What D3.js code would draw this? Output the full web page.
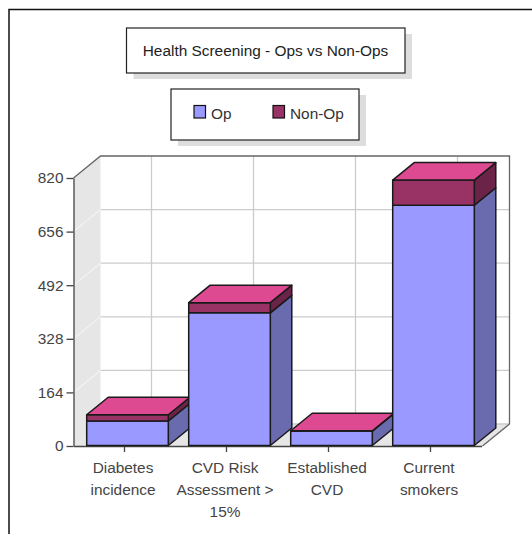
<!DOCTYPE html>
<html>
<head>
<meta charset="utf-8">
<script src="https://cdn.jsdelivr.net/npm/d3@7/dist/d3.min.js"></script>
<style>
html, body { margin: 0; padding: 0; background: #fff; }
svg { display: block; }
text { font-family: "Liberation Sans", Arial, sans-serif; fill: #444; }
</style>
</head>
<body>
<svg id="chart" width="532" height="534"></svg>
<script>
// Chart data
const categoryLabels = [
  ["Diabetes", "incidence"],
  ["CVD Risk", "Assessment >", "15%"],
  ["Established", "CVD"],
  ["Current", "smokers"]
];
const opValues = [75, 406, 44, 735];
const nonOpValues = [19, 31, 1, 77];
const yTicks = [0, 164, 328, 492, 656, 820];
const seriesNames = ["Op", "Non-Op"];
const titleText = "Health Screening - Ops vs Non-Ops";

// Face colours per series: front, side, top
const opFaces = { front: "#9999ff", side: "#6a6aae" };
const nonOpFaces = { front: "#993366", side: "#6b2447", top: "#dd4a92" };

const svg = d3.select("#chart");
const fontSize = 15.4;
const left = 73.5, right = 481.5, base = 446, top820 = 178;
const wallDx = 27, wallDy = -22;
const barDx = 21.5, barDy = -17.5;
const barShift = 3; // bars sit slightly right of their tick, toward the depth offset

const x = d3.scaleBand().domain(d3.range(categoryLabels.length)).range([left, right]).paddingInner(0.2).paddingOuter(0.1);
const y = d3.scaleLinear().domain([0, 820]).range([base, top820]);

const poly = (pts) => pts.map(p => p.join(",")).join(" ");

// Outer frame, open on the right and bottom
svg.append("path").attr("d", "M9,534V9.5H532").attr("fill", "none").attr("stroke", "#111").attr("stroke-width", 1.5);

// Boxed caption with a drop shadow
function box(x0, y0, w, h) {
  svg.append("rect").attr("x", x0 + 7).attr("y", y0 + 6).attr("width", w).attr("height", h).attr("fill", "#ddd");
  svg.append("rect").attr("x", x0).attr("y", y0).attr("width", w).attr("height", h)
    .attr("fill", "#fff").attr("stroke", "#222").attr("stroke-width", 1.2);
}
box(126.5, 28, 278.5, 45);
svg.append("text").attr("x", 265.5).attr("y", 56).attr("text-anchor", "middle").attr("font-size", fontSize).style("fill", "#222").text(titleText);

box(171, 89, 188, 51);
const legendX = [194, 273];
[opFaces.front, nonOpFaces.front].forEach((c, i) => {
  svg.append("rect").attr("x", legendX[i]).attr("y", 105.5).attr("width", 11.5).attr("height", 12.5)
    .attr("fill", c).attr("stroke", "#111").attr("stroke-width", 1.2);
  svg.append("text").attr("x", legendX[i] + 17).attr("y", 118.5).attr("font-size", fontSize).style("fill", "#333").text(seriesNames[i]);
});

// Back wall, side wall and floor
const wallRight = right + wallDx + 1;
const backBottom = base + wallDy;
svg.append("polygon").attr("fill", "#e6e6e6")
  .attr("points", poly([[left, y(820)], [left + wallDx, y(820) + wallDy], [left + wallDx, backBottom], [left, base]]));
svg.append("polygon").attr("fill", "#e6e6e6")
  .attr("points", poly([[left, base], [left + wallDx, backBottom], [wallRight, backBottom], [wallRight - wallDx, base]]));

// Grid on the walls
const grid = svg.append("g").attr("fill", "none").attr("stroke", "#ccc").attr("stroke-width", 1.3);
yTicks.forEach(t => {
  if (t > 0 && t < 820) {
    grid.append("line").attr("x1", left + wallDx).attr("x2", wallRight)
      .attr("y1", y(t) + wallDy).attr("y2", y(t) + wallDy);
    grid.append("line").attr("x1", left).attr("x2", left + wallDx)
      .attr("y1", y(t)).attr("y2", y(t) + wallDy).attr("stroke", "#f2f2f2");
  }
});
x.domain().forEach(i => {
  const cx = x(i) + x.bandwidth() / 2 + wallDx;
  grid.append("line").attr("x1", cx).attr("x2", cx).attr("y1", y(820) + wallDy).attr("y2", backBottom);
});
grid.append("line").attr("x1", left + wallDx).attr("x2", wallRight).attr("y1", backBottom).attr("y2", backBottom);

// Wall outline
svg.append("path").attr("fill", "none").attr("stroke", "#666").attr("stroke-width", 1.3)
  .attr("d", `M${left},${y(820)}L${left + wallDx},${y(820) + wallDy}H${wallRight}V${backBottom}L${wallRight - wallDx},${base}`);

// Axes
const yAxis = d3.axisLeft(y).tickValues(yTicks).tickSize(7).tickSizeOuter(0).tickPadding(3);
const yG = svg.append("g").attr("transform", `translate(${left},0)`).call(yAxis);
yG.selectAll("path,line").attr("stroke", "#444").attr("stroke-width", 1.3);
yG.selectAll("text").attr("font-size", fontSize).style("font-family", '"Liberation Sans", Arial, sans-serif');

const xAxis = d3.axisBottom(x).tickSize(6).tickSizeOuter(0).tickFormat("");
const xG = svg.append("g").attr("transform", `translate(0,${base})`).call(xAxis);
xG.selectAll("path,line").attr("stroke", "#444").attr("stroke-width", 1.3);

const labels = svg.append("g").attr("font-size", fontSize).attr("text-anchor", "middle");
categoryLabels.forEach((lines, i) => {
  const t = labels.append("text");
  lines.forEach((ln, k) => {
    t.append("tspan").attr("x", x(i) + x.bandwidth() / 2 - 1.5).attr("y", 473 + k * 22).text(ln);
  });
});

// One stacked 3D bar: side and front for each segment, lid on the top one
function drawSegment(g, i, from, to, faces) {
  const x0 = x(i) + barShift, x1 = x0 + x.bandwidth();
  const y0 = y(from) - 0.5, y1 = y(to) - 0.5;
  g.append("polygon").attr("fill", faces.side)
    .attr("points", poly([[x1, y0], [x1 + barDx, y0 + barDy], [x1 + barDx, y1 + barDy], [x1, y1]]));
  g.append("polygon").attr("fill", faces.front)
    .attr("points", poly([[x0, y0], [x1, y0], [x1, y1], [x0, y1]]));
  if (faces.top) {
    g.append("polygon").attr("fill", faces.top)
      .attr("points", poly([[x0, y1], [x1, y1], [x1 + barDx, y1 + barDy], [x0 + barDx, y1 + barDy]]));
  }
}

const bars = svg.append("g").attr("stroke", "#1a1a1a").attr("stroke-width", 1.5).attr("stroke-linejoin", "round");
opValues.forEach((op, i) => {
  const g = bars.append("g");
  drawSegment(g, i, 0, op, opFaces);
  drawSegment(g, i, op, op + nonOpValues[i], nonOpFaces);
});
</script>
</body>
</html>
